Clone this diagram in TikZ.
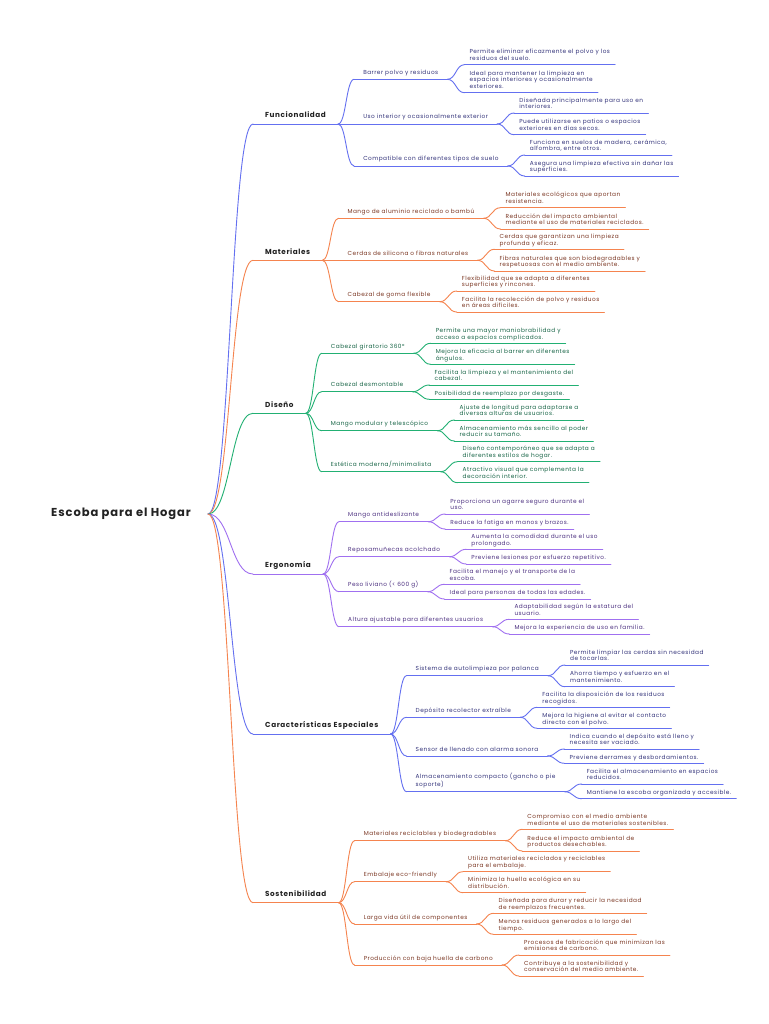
\documentclass[tikz,border=0pt]{standalone}
\usepackage{fontspec}
\setmainfont{Poppins}[LetterSpace=8]
\usetikzlibrary{calc}
\definecolor{blL}{HTML}{6470F0}
\definecolor{blT}{HTML}{33337A}
\definecolor{orL}{HTML}{F5844F}
\definecolor{orT}{HTML}{7A3622}
\definecolor{grL}{HTML}{22B073}
\definecolor{grT}{HTML}{166445}
\definecolor{puL}{HTML}{A070F0}
\definecolor{puT}{HTML}{4C3080}
\definecolor{mainc}{HTML}{222222}
\tikzset{
  ln/.style={line width=0.9pt, line cap=round},
  ul/.style={append after command={(\tikzlastnode.south west) edge[ln] (\tikzlastnode.south east)}},
  rootnode/.style={font=\fontsize{11.5}{13}\selectfont\bfseries, text=mainc, inner sep=0pt, anchor=west},
  mainnode/.style={font=\fontsize{7.25}{8.4}\selectfont\bfseries, text=mainc, inner xsep=12pt, inner ysep=6pt, text depth=0pt, anchor=south west, ul},
  subnode/.style={font=\fontsize{5.8}{6.7}\selectfont, inner xsep=9pt, inner ysep=4.8pt, text depth=0pt, anchor=south west, align=left, ul},
  leafnode/.style={font=\fontsize{5.8}{6.7}\selectfont, inner xsep=5pt, inner ysep=4pt, text depth=0pt, anchor=south west, align=left, ul},
  mm/.style={to path={let \p1=(\tikztostart), \p2=(\tikztotarget) in .. controls ({0.5*\x1+0.5*\x2},\y1) and ({0.5*\x1+0.5*\x2},\y2) .. (\tikztotarget)}},
}
\begin{document}
\begin{tikzpicture}[x=1pt,y=-1pt]
\fill[white] (0,0) rectangle (768,1024);
\useasboundingbox (0,0) rectangle (768,1024);

\node[rootnode] (root) at (51,514) {Escoba para el Hogar};
\coordinate (rf) at ([xshift=17pt]root.east);

%================ Funcionalidad
\begin{scope}[ln/.append style={draw=blL}, subnode/.append style={text=blT}, leafnode/.append style={text=blT}]
\node[mainnode] (F) at (253,124) {Funcionalidad};
\draw[ln] (rf) to[mm] (F.south west);
\coordinate (Fx) at ([xshift=16pt]F.south east);
\node[subnode] (Fa) at (Fx |- 0,79.3) {Barrer polvo y residuos};
\node[subnode] (Fb) at (Fx |- 0,124) {Uso interior y ocasionalmente exterior};
\node[subnode] (Fc) at (Fx |- 0,166) {Compatible con diferentes tipos de suelo};
\foreach \cc in {Fa,Fb,Fc} \draw[ln] (F.south east) to[mm] (\cc.south west);
\coordinate (Fax) at ([xshift=17pt]Fa.south east);
\node[leafnode] (Fa1) at (Fax |- 0,64.7) {Permite eliminar eficazmente el polvo y los\\residuos del suelo.};
\node[leafnode] (Fa2) at (Fax |- 0,92.7) {Ideal para mantener la limpieza en\\espacios interiores y ocasionalmente\\exteriores.};
\coordinate (Fbx) at ([xshift=17pt]Fb.south east);
\node[leafnode] (Fb1) at (Fbx |- 0,113) {Diseñada principalmente para uso en\\interiores.};
\node[leafnode] (Fb2) at (Fbx |- 0,134.7) {Puede utilizarse en patios o espacios\\exteriores en días secos.};
\coordinate (Fcx) at ([xshift=17pt]Fc.south east);
\node[leafnode] (Fc1) at (Fcx |- 0,155) {Funciona en suelos de madera, cerámica,\\alfombra, entre otros.};
\node[leafnode] (Fc2) at (Fcx |- 0,176) {Asegura una limpieza efectiva sin dañar las\\superficies.};
\foreach \pp in {Fa,Fb,Fc} \foreach \kk in {1,2} \draw[ln] (\pp.south east) to[mm] (\pp\kk.south west);
\end{scope}

%================ Materiales
\begin{scope}[ln/.append style={draw=orL}, subnode/.append style={text=orT}, leafnode/.append style={text=orT}]
\node[mainnode] (M) at (253,260.3) {Materiales};
\draw[ln] (rf) to[mm] (M.south west);
\coordinate (Mx) at ([xshift=16pt]M.south east);
\node[subnode] (Ma) at (Mx |- 0,218.3) {Mango de aluminio reciclado o bambú};
\node[subnode] (Mb) at (Mx |- 0,260.3) {Cerdas de silicona o fibras naturales};
\node[subnode] (Mc) at (Mx |- 0,301.7) {Cabezal de goma flexible};
\foreach \cc in {Ma,Mb,Mc} \draw[ln] (M.south east) to[mm] (\cc.south west);
\coordinate (Max) at ([xshift=17pt]Ma.south east);
\node[leafnode] (Ma1) at (Max |- 0,207.7) {Materiales ecológicos que aportan\\resistencia.};
\node[leafnode] (Ma2) at (Max |- 0,229) {Reducción del impacto ambiental\\mediante el uso de materiales reciclados.};
\coordinate (Mbx) at ([xshift=17pt]Mb.south east);
\node[leafnode] (Mb1) at (Mbx |- 0,249.3) {Cerdas que garantizan una limpieza\\profunda y eficaz.};
\node[leafnode] (Mb2) at (Mbx |- 0,271) {Fibras naturales que son biodegradables y\\respetuosas con el medio ambiente.};
\coordinate (Mcx) at ([xshift=17pt]Mc.south east);
\node[leafnode] (Mc1) at (Mcx |- 0,291) {Flexibilidad que se adapta a diferentes\\superficies y rincones.};
\node[leafnode] (Mc2) at (Mcx |- 0,312) {Facilita la recolección de polvo y residuos\\en áreas difíciles.};
\foreach \pp in {Ma,Mb,Mc} \foreach \kk in {1,2} \draw[ln] (\pp.south east) to[mm] (\pp\kk.south west);
\end{scope}

%================ Diseño
\begin{scope}[ln/.append style={draw=grL}, subnode/.append style={text=grT}, leafnode/.append style={text=grT}]
\node[mainnode] (D) at (253,413.3) {Diseño};
\draw[ln] (rf) to[mm] (D.south west);
\coordinate (Dx) at ([xshift=16pt]D.south east);
\node[subnode] (Da) at (Dx |- 0,353.3) {Cabezal giratorio 360°};
\node[subnode] (Db) at (Dx |- 0,391.7) {Cabezal desmontable};
\node[subnode] (Dc) at (Dx |- 0,430.7) {Mango modular y telescópico};
\node[subnode] (Dd) at (Dx |- 0,471.7) {Estética moderna/minimalista};
\foreach \cc in {Da,Db,Dc,Dd} \draw[ln] (D.south east) to[mm] (\cc.south west);
\coordinate (Dax) at ([xshift=17pt]Da.south east);
\node[leafnode] (Da1) at (Dax |- 0,343.3) {Permite una mayor maniobrabilidad y\\acceso a espacios complicados.};
\node[leafnode] (Da2) at (Dax |- 0,364.3) {Mejora la eficacia al barrer en diferentes\\ángulos.};
\coordinate (Dbx) at ([xshift=17pt]Db.south east);
\node[leafnode] (Db1) at (Dbx |- 0,385) {Facilita la limpieza y el mantenimiento del\\cabezal.};
\node[leafnode] (Db2) at (Dbx |- 0,399.3) {Posibilidad de reemplazo por desgaste.};
\coordinate (Dcx) at ([xshift=17pt]Dc.south east);
\node[leafnode] (Dc1) at (Dcx |- 0,420) {Ajuste de longitud para adaptarse a\\diversas alturas de usuarios.};
\node[leafnode] (Dc2) at (Dcx |- 0,441) {Almacenamiento más sencillo al poder\\reducir su tamaño.};
\coordinate (Ddx) at ([xshift=17pt]Dd.south east);
\node[leafnode] (Dd1) at (Ddx |- 0,461.7) {Diseño contemporáneo que se adapta a\\diferentes estilos de hogar.};
\node[leafnode] (Dd2) at (Ddx |- 0,482.7) {Atractivo visual que complementa la\\decoración interior.};
\foreach \pp in {Da,Db,Dc,Dd} \foreach \kk in {1,2} \draw[ln] (\pp.south east) to[mm] (\pp\kk.south west);
\end{scope}

%================ Ergonomía
\begin{scope}[ln/.append style={draw=puL}, subnode/.append style={text=puT}, leafnode/.append style={text=puT}]
\node[mainnode] (E) at (253,574) {Ergonomía};
\draw[ln] (rf) to[mm] (E.south west);
\coordinate (Ex) at ([xshift=16pt]E.south east);
\node[subnode] (Ea) at (Ex |- 0,521.7) {Mango antideslizante};
\node[subnode] (Eb) at (Ex |- 0,556.7) {Reposamuñecas acolchado};
\node[subnode] (Ec) at (Ex |- 0,591.7) {Peso liviano (< 600 g)};
\node[subnode] (Ed) at (Ex |- 0,626.7) {Altura ajustable para diferentes usuarios};
\foreach \cc in {Ea,Eb,Ec,Ed} \draw[ln] (E.south east) to[mm] (\cc.south west);
\coordinate (Eax) at ([xshift=17pt]Ea.south east);
\node[leafnode] (Ea1) at (Eax |- 0,514) {Proporciona un agarre seguro durante el\\uso.};
\node[leafnode] (Ea2) at (Eax |- 0,529) {Reduce la fatiga en manos y brazos.};
\coordinate (Ebx) at ([xshift=17pt]Eb.south east);
\node[leafnode] (Eb1) at (Ebx |- 0,549.3) {Aumenta la comodidad durante el uso\\prolongado.};
\node[leafnode] (Eb2) at (Ebx |- 0,564) {Previene lesiones por esfuerzo repetitivo.};
\coordinate (Ecx) at ([xshift=17pt]Ec.south east);
\node[leafnode] (Ec1) at (Ecx |- 0,584.3) {Facilita el manejo y el transporte de la\\escoba.};
\node[leafnode] (Ec2) at (Ecx |- 0,599) {Ideal para personas de todas las edades.};
\coordinate (Edx) at ([xshift=17pt]Ed.south east);
\node[leafnode] (Ed1) at (Edx |- 0,619.3) {Adaptabilidad según la estatura del\\usuario.};
\node[leafnode] (Ed2) at (Edx |- 0,634) {Mejora la experiencia de uso en familia.};
\foreach \pp in {Ea,Eb,Ec,Ed} \foreach \kk in {1,2} \draw[ln] (\pp.south east) to[mm] (\pp\kk.south west);
\end{scope}

%================ Características Especiales
\begin{scope}[ln/.append style={draw=blL}, subnode/.append style={text=blT}, leafnode/.append style={text=blT}]
\node[mainnode] (C) at (253,734) {Características Especiales};
\draw[ln] (rf) to[mm] (C.south west);
\coordinate (Cx) at ([xshift=16pt]C.south east);
\node[subnode] (Ca) at (Cx |- 0,675.7) {Sistema de autolimpieza por palanca};
\node[subnode] (Cb) at (Cx |- 0,717.3) {Depósito recolector extraíble};
\node[subnode] (Cc) at (Cx |- 0,756) {Sensor de llenado con alarma sonora};
\node[subnode] (Cd) at (Cx |- 0,791.7) {Almacenamiento compacto (gancho o pie\\soporte)};
\foreach \cc in {Ca,Cb,Cc,Cd} \draw[ln] (C.south east) to[mm] (\cc.south west);
\coordinate (Cax) at ([xshift=17pt]Ca.south east);
\node[leafnode] (Ca1) at (Cax |- 0,665) {Permite limpiar las cerdas sin necesidad\\de tocarlas.};
\node[leafnode] (Ca2) at (Cax |- 0,686.7) {Ahorra tiempo y esfuerzo en el\\mantenimiento.};
\coordinate (Cbx) at ([xshift=17pt]Cb.south east);
\node[leafnode] (Cb1) at (Cbx |- 0,707.3) {Facilita la disposición de los residuos\\recogidos.};
\node[leafnode] (Cb2) at (Cbx |- 0,728.3) {Mejora la higiene al evitar el contacto\\directo con el polvo.};
\coordinate (Ccx) at ([xshift=17pt]Cc.south east);
\node[leafnode] (Cc1) at (Ccx |- 0,749) {Indica cuando el depósito está lleno y\\necesita ser vaciado.};
\node[leafnode] (Cc2) at (Ccx |- 0,763.3) {Previene derrames y desbordamientos.};
\coordinate (Cdx) at ([xshift=17pt]Cd.south east);
\node[leafnode] (Cd1) at (Cdx |- 0,784) {Facilita el almacenamiento en espacios\\reducidos.};
\node[leafnode] (Cd2) at (Cdx |- 0,798.7) {Mantiene la escoba organizada y accesible.};
\foreach \pp in {Ca,Cb,Cc,Cd} \foreach \kk in {1,2} \draw[ln] (\pp.south east) to[mm] (\pp\kk.south west);
\end{scope}

%================ Sostenibilidad
\begin{scope}[ln/.append style={draw=orL}, subnode/.append style={text=orT}, leafnode/.append style={text=orT}]
\node[mainnode] (S) at (253,902.7) {Sostenibilidad};
\draw[ln] (rf) to[mm] (S.south west);
\coordinate (Sx) at ([xshift=16pt]S.south east);
\node[subnode] (Sa) at (Sx |- 0,840.7) {Materiales reciclables y biodegradables};
\node[subnode] (Sb) at (Sx |- 0,881.7) {Embalaje eco-friendly};
\node[subnode] (Sc) at (Sx |- 0,924) {Larga vida útil de componentes};
\node[subnode] (Sd) at (Sx |- 0,965) {Producción con baja huella de carbono};
\foreach \cc in {Sa,Sb,Sc,Sd} \draw[ln] (S.south east) to[mm] (\cc.south west);
\coordinate (Sax) at ([xshift=17pt]Sa.south east);
\node[leafnode] (Sa1) at (Sax |- 0,829.3) {Compromiso con el medio ambiente\\mediante el uso de materiales sostenibles.};
\node[leafnode] (Sa2) at (Sax |- 0,851) {Reduce el impacto ambiental de\\productos desechables.};
\coordinate (Sbx) at ([xshift=17pt]Sb.south east);
\node[leafnode] (Sb1) at (Sbx |- 0,871.7) {Utiliza materiales reciclados y reciclables\\para el embalaje.};
\node[leafnode] (Sb2) at (Sbx |- 0,892.7) {Minimiza la huella ecológica en su\\distribución.};
\coordinate (Scx) at ([xshift=17pt]Sc.south east);
\node[leafnode] (Sc1) at (Scx |- 0,913.3) {Diseñada para durar y reducir la necesidad\\de reemplazos frecuentes.};
\node[leafnode] (Sc2) at (Scx |- 0,934.3) {Menos residuos generados a lo largo del\\tiempo.};
\coordinate (Sdx) at ([xshift=17pt]Sd.south east);
\node[leafnode] (Sd1) at (Sdx |- 0,955) {Procesos de fabricación que minimizan las\\emisiones de carbono.};
\node[leafnode] (Sd2) at (Sdx |- 0,976) {Contribuye a la sostenibilidad y\\conservación del medio ambiente.};
\foreach \pp in {Sa,Sb,Sc,Sd} \foreach \kk in {1,2} \draw[ln] (\pp.south east) to[mm] (\pp\kk.south west);
\end{scope}
\end{tikzpicture}
\end{document}
